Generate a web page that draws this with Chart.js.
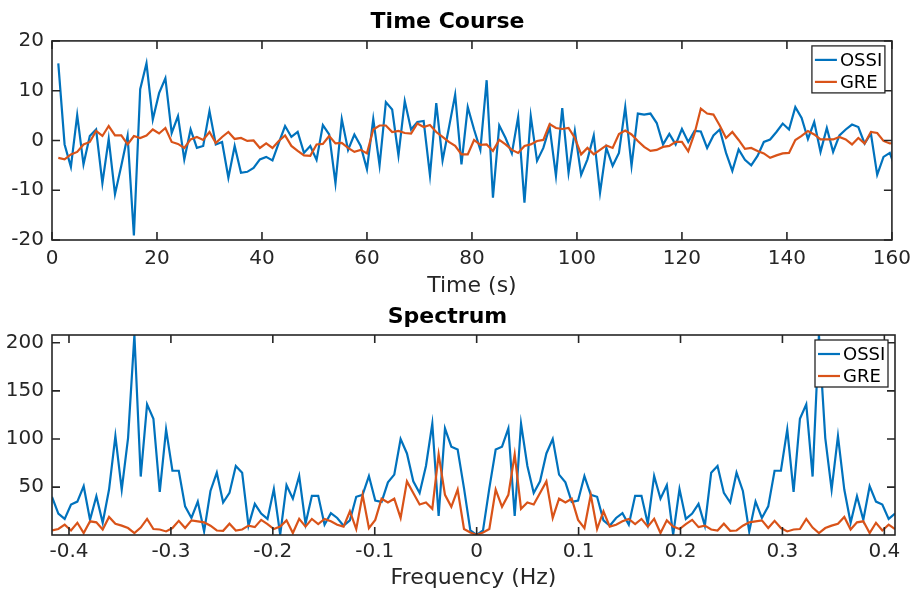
<!DOCTYPE html>
<html>
<head>
<meta charset="utf-8">
<script src="https://cdn.jsdelivr.net/npm/chart.js@4.4.1/dist/chart.umd.min.js"></script>
<style>
  html, body { margin: 0; padding: 0; background: #fff; }
  #wrap { position: relative; width: 918px; height: 592px; }
  canvas { position: absolute; left: 0; }
  #tc { top: 0; }
  #sp { top: 300px; }
</style>
</head>
<body>
<div id="wrap">
  <canvas id="tc" width="918" height="300"></canvas>
  <canvas id="sp" width="918" height="292"></canvas>
</div>
<script>
// ── data ──
const TR = 1.2; // sampling interval (s)
const seriesNames = ['OSSI', 'GRE'];
const seriesColors = ['#0072BD', '#D95319'];

// time course, one sample per TR starting at t = TR
const ossiTime = [
  15.5, -0.8, -5.3, 5.1, -4.8, 0.9, 2.2, -8.6, 0.3, -10.8,
  -5.1, 0.9, -19.1, 10.3, 15.5, 4.2, 9.5, 12.5, 1.5, 4.9,
  -3.8, 2.2, -1.5, -1.1, 5.9, -0.8, -0.3, -7.5, -1.1, -6.5,
  -6.3, -5.5, -3.8, -3.3, -4.0, -0.5, 2.9, 0.7, 1.7, -2.5,
  -1.1, -3.9, 3.1, 1.2, -8.6, 4.3, -1.9, 1.2, -1.1, -5.8,
  4.3, -5.0, 7.7, 6.2, -3.0, 7.9, 2.2, 3.7, 3.9, -7.0,
  7.5, -4.0, 2.5, 9.2, -4.8, 6.7, 2.2, -1.9, 12.1, -11.5,
  3.0, 0.5, -2.6, 4.7, -12.5, 4.9, -4.1, -1.5, 2.7, -7.1,
  6.5, -6.5, 1.9, -6.9, -3.8, 1.0, -10.5, -1.5, -5.1, -2.5,
  6.7, -5.1, 5.4, 5.2, 5.4, 3.5, -0.8, 1.3, -0.8, 2.3,
  -0.3, 1.9, 1.8, -1.5, 1.0, 2.2, -2.5, -6.1, -1.8, -3.9,
  -5.0, -3.1, -0.3, 0.2, 1.7, 3.4, 2.2, 6.7, 4.5, 0.3,
  3.7, -2.3, 2.5, -2.3, 1.0, 2.2, 3.2, 2.7, -0.6, 1.4,
  -6.9, -3.3, -2.5, -6.0
];
const greTime = [
  -3.5, -3.8, -2.8, -2.3, -0.8, -0.3, 1.9, 0.9, 2.9, 1.0,
  1.0, -0.8, 0.9, 0.5, 1.0, 2.2, 1.4, 2.5, -0.3, -0.7,
  -1.5, 0.2, 0.7, 0.1, 1.7, -0.5, 0.7, 1.7, 0.3, 0.5,
  -0.1, 0.0, -1.5, -0.6, -1.5, -0.1, 1.0, -1.1, -2.1, -3.0,
  -3.1, -0.8, -0.7, 0.9, -0.6, -0.5, -1.5, -2.3, -1.9, -2.6,
  2.2, 3.0, 3.0, 1.7, 1.9, 1.5, 1.4, 3.4, 2.7, 3.1,
  1.7, 0.7, -0.3, -1.1, -2.8, -2.8, 0.1, -0.9, -0.8, -2.1,
  0.1, -0.8, -1.9, -2.5, -1.1, -0.8, -0.1, 0.1, 3.3, 2.5,
  2.3, 2.5, 0.5, -2.8, -1.5, -2.8, -1.9, -1.0, -1.5, 1.3,
  2.0, 1.2, -0.1, -1.3, -2.1, -1.9, -1.3, -1.1, -0.3, -0.3,
  -2.2, 1.4, 6.4, 5.4, 5.2, 3.0, 0.5, 1.7, 0.1, -1.7,
  -1.5, -2.1, -2.6, -3.5, -3.0, -2.6, -2.5, 0.1, 0.9, 1.9,
  1.2, 0.2, 0.2, 0.2, 0.7, 0.2, -0.8, 0.5, -0.6, 1.7,
  1.5, -0.1, -0.6, -0.5
];

// magnitude spectrum, fftshift order (first bin = -Nyquist)
const ossiSpec = [
  40, 22.5, 17, 32, 35, 51, 16, 40.6, 13, 47.5,
  103, 47.5, 101, 208, 61, 136, 121, 45, 110, 67,
  67, 30, 18, 35, 4, 46, 65, 34, 44, 72,
  65, 10, 32.6, 22.5, 17, 48, 0.6, 52, 38, 61.5,
  12, 41, 41, 11, 23, 18, 10, 15.5, 40, 42,
  61.5, 36, 34.7, 55, 63, 100, 85, 56, 44, 72,
  116, 20, 111, 92, 89, 49, 5, 0.3, 5, 49,
  89, 92, 111, 20, 116, 72, 44, 56, 85, 100,
  63, 55, 34.7, 36, 61.5, 42, 40, 15.5, 10, 18,
  23, 11, 41, 41, 12, 61.5, 38, 52, 0.6, 48,
  17, 22.5, 32.6, 10, 65, 72, 44, 34, 65, 46,
  4, 35, 18, 30, 67, 67, 110, 45, 121, 136,
  61, 208, 101, 47.5, 103, 47.5, 13, 40.6, 16, 51,
  35, 32, 17, 22.5
];
const greSpec = [
  5, 6.5, 11, 5, 13, 2.3, 14.5, 13.5, 6, 19,
  12, 10, 7.5, 2.3, 8, 17, 6.5, 6, 4, 7.5,
  15, 7.5, 15.5, 14.5, 13.5, 10, 5, 4.7, 12, 5,
  6, 10, 8.5, 16, 11.7, 6.5, 9, 15.5, 2.3, 17,
  9, 17, 11.7, 17, 14.5, 11, 9, 25, 6.5, 42,
  7.5, 16, 38, 34, 38, 18, 56, 44, 32, 34,
  27.5, 84, 42, 29.5, 47.5, 6.5, 3, 0.3, 3, 6.5,
  47.5, 29.5, 42, 84, 27.5, 34, 32, 44, 56, 18,
  38, 34, 38, 16, 7.5, 42, 6.5, 25, 9, 11,
  14.5, 17, 11.7, 17, 9, 17, 2.3, 15.5, 9, 6.5,
  11.7, 16, 8.5, 10, 6, 5, 12, 4.7, 5, 10,
  13.5, 14.5, 15.5, 7.5, 15, 7.5, 4, 6, 6.5, 17,
  8, 2.3, 7.5, 10, 12, 19, 6, 13.5, 14.5, 2.3,
  13, 5, 11, 6.5
];

// tick labels
const timeTicks = [0, 20, 40, 60, 80, 100, 120, 140, 160];
const timeValTicks = [-20, -10, 0, 10, 20];
const freqTicks = [-0.4, -0.3, -0.2, -0.1, 0, 0.1, 0.2, 0.3, 0.4];
const specValTicks = [50, 100, 150, 200];

// sample positions
const timeSec = ossiTime.map((_, i) => +(TR * (i + 1)).toFixed(2));
const nBins = ossiSpec.length;
const df = 1 / (TR * nBins);
const freqHz = ossiSpec.map((_, i) => (i - nBins / 2) * df);

// ── look ──
const INK = '#262626';
const TICK = 8;
Chart.defaults.font.family = "'DejaVu Sans', sans-serif";
Chart.defaults.color = INK;

// MATLAB-style box, inward ticks and boxed legend
const matlabAxes = {
  id: 'matlabAxes',
  afterDatasetsDraw(chart) {
    const { ctx, chartArea: a, scales: { x, y } } = chart;
    ctx.save();
    ctx.strokeStyle = INK;
    ctx.lineWidth = 1.6;
    ctx.beginPath();
    x.ticks.forEach((t) => {
      const px = x.getPixelForValue(t.value);
      ctx.moveTo(px, a.bottom); ctx.lineTo(px, a.bottom - TICK);
      ctx.moveTo(px, a.top); ctx.lineTo(px, a.top + TICK);
    });
    y.ticks.forEach((t) => {
      const py = y.getPixelForValue(t.value);
      ctx.moveTo(a.left, py); ctx.lineTo(a.left + TICK, py);
      ctx.moveTo(a.right, py); ctx.lineTo(a.right - TICK, py);
    });
    ctx.stroke();
    ctx.strokeRect(a.left, a.top, a.right - a.left, a.bottom - a.top);

    // legend
    const bx = a.right - 80, by = a.top + 5, bw = 73, bh = 47;
    ctx.fillStyle = '#fff';
    ctx.fillRect(bx, by, bw, bh);
    ctx.lineWidth = 1.3;
    ctx.strokeRect(bx, by, bw, bh);
    ctx.font = "18px 'DejaVu Sans', sans-serif";
    ctx.textBaseline = 'middle';
    chart.data.datasets.forEach((ds, i) => {
      const ry = by + 14 + i * 22;
      ctx.strokeStyle = ds.borderColor;
      ctx.lineWidth = 2.2;
      ctx.beginPath();
      ctx.moveTo(bx + 3, ry); ctx.lineTo(bx + 25, ry);
      ctx.stroke();
      ctx.fillStyle = '#000';
      ctx.fillText(ds.label, bx + 28, ry + 1);
    });
    ctx.restore();
  },
};

function lineSet(label, color, xs, ys, order) {
  return {
    label,
    data: xs.map((v, i) => ({ x: v, y: ys[i] })),
    borderColor: color,
    borderWidth: 2.2,
    pointRadius: 0,
    tension: 0,
    fill: false,
    clip: 0,
    order,
  };
}

function axisOpts(tickList, pad, extra) {
  return Object.assign({
    type: 'linear',
    grid: { display: false, drawTicks: false },
    border: { display: false },
    afterBuildTicks: (s) => { s.ticks = tickList.map((v) => ({ value: v })); },
    ticks: { font: { size: 20 }, color: INK, padding: pad, callback: (v) => String(v) },
  }, extra);
}

function makeChart(canvas, cfg) {
  return new Chart(canvas.getContext('2d'), {
    type: 'line',
    data: { datasets: cfg.datasets },
    options: {
      responsive: false,
      animation: false,
      devicePixelRatio: 1,
      layout: { padding: { left: 0, right: 23, top: 0, bottom: 0 } },
      plugins: {
        legend: { display: false },
        tooltip: { enabled: false },
        title: {
          display: true,
          text: cfg.title,
          color: '#000',
          font: { size: 22, weight: 'bold' },
          padding: cfg.titlePad,
        },
      },
      scales: {
        x: axisOpts(cfg.xTicks, cfg.xTickPad, {
          min: cfg.xMin, max: cfg.xMax,
          title: { display: true, text: cfg.xLabel, color: INK, font: { size: 22 }, padding: { top: 0, bottom: 1 } },
          afterFit: (s) => { s.height = cfg.xHeight; },
        }),
        y: axisOpts(cfg.yTicks, 8, {
          min: cfg.yMin, max: cfg.yMax,
          afterFit: (s) => { s.width = 52; },
        }),
      },
    },
    plugins: [matlabAxes],
  });
}

makeChart(document.getElementById('tc'), {
  title: 'Time Course',
  titlePad: { top: 9.5, bottom: 5 },
  datasets: [
    lineSet(seriesNames[0], seriesColors[0], timeSec, ossiTime, 1),
    lineSet(seriesNames[1], seriesColors[1], timeSec, greTime, 0),
  ],
  xTicks: timeTicks, xMin: 0, xMax: 160, xLabel: 'Time (s)',
  xHeight: 60, xTickPad: 7,
  yTicks: timeValTicks, yMin: -20, yMax: 20,
});

const allSpec = ossiSpec.concat(greSpec);
makeChart(document.getElementById('sp'), {
  title: 'Spectrum',
  titlePad: { top: 4, bottom: 4.6 },
  datasets: [
    lineSet(seriesNames[0], seriesColors[0], freqHz, ossiSpec, 1),
    lineSet(seriesNames[1], seriesColors[1], freqHz, greSpec, 0),
  ],
  xTicks: freqTicks, xMin: freqHz[0], xMax: freqHz[nBins - 1], xLabel: 'Frequency (Hz)',
  xHeight: 57, xTickPad: 5,
  yTicks: specValTicks, yMin: Math.min(...allSpec), yMax: Math.max(...allSpec),
});
</script>
</body>
</html>
